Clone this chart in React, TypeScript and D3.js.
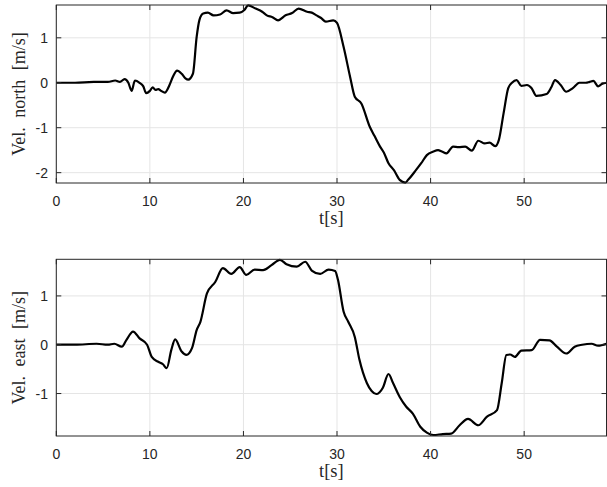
import React from "react";
import * as d3 from "d3";

const northT = [0, 2, 4, 5.5, 6.3, 6.8, 7.3, 7.7, 8.05, 8.4, 8.9, 9.3, 9.6, 10.0, 10.3, 10.6, 10.9, 11.2, 11.6, 12.1, 12.5, 12.9, 13.4, 13.8, 14.1, 14.6, 15.0, 15.3, 15.7, 16.2, 16.8, 17.5, 18.2, 18.9, 19.6, 20.1, 20.5, 21.3, 22.0, 22.5, 23.1, 23.7, 24.5, 25.2, 25.9, 26.8, 27.3, 27.8, 28.3, 28.8, 29.6, 30.0, 30.7, 31.4, 31.9, 32.6, 33.5, 34.0, 34.6, 35.0, 35.5, 36.1, 36.7, 37.3, 37.6, 38.3, 39.0, 39.6, 40.3, 40.8, 41.2, 41.7, 42.4, 43.0, 43.7, 44.4, 45.1, 45.8, 46.3, 46.9, 47.3, 47.8, 48.3, 48.7, 49.2, 49.7, 50.3, 50.8, 51.3, 52.4, 52.9, 53.3, 53.9, 54.5, 55.2, 55.9, 56.6, 57.0, 57.4, 57.9, 58.3, 58.8];
const northV = [0, 0.0, 0.02, 0.02, 0.05, 0.02, 0.08, 0.0, -0.18, 0.05, 0.0, -0.08, -0.23, -0.18, -0.1, -0.16, -0.14, -0.18, -0.22, -0.05, 0.15, 0.27, 0.2, 0.1, 0.07, 0.2, 1.02, 1.4, 1.54, 1.56, 1.5, 1.52, 1.61, 1.55, 1.56, 1.62, 1.72, 1.65, 1.58, 1.5, 1.46, 1.39, 1.5, 1.55, 1.65, 1.58, 1.56, 1.5, 1.44, 1.36, 1.39, 1.33, 0.8, 0.13, -0.31, -0.46, -0.98, -1.18, -1.42, -1.55, -1.79, -1.95, -2.16, -2.22, -2.16, -1.98, -1.79, -1.61, -1.53, -1.5, -1.53, -1.57, -1.42, -1.43, -1.42, -1.51, -1.29, -1.35, -1.33, -1.41, -1.27, -0.68, -0.12, 0.0, 0.06, -0.07, -0.05, -0.12, -0.29, -0.25, -0.1, 0.06, -0.05, -0.2, -0.12, 0.0, 0.0, 0.02, 0.04, -0.08, -0.03, 0.0];

const eastT = [0, 2, 4.3, 5.5, 6.2, 7.0, 7.5, 8.2, 8.9, 9.7, 10.2, 10.9, 11.4, 11.8, 12.3, 12.7, 13.4, 13.9, 14.5, 15.0, 15.4, 16.1, 17.0, 17.8, 18.7, 19.6, 20.3, 21.2, 22.1, 23.0, 23.9, 24.6, 25.7, 26.6, 27.3, 28.2, 29.1, 29.8, 30.1, 30.7, 31.2, 31.9, 32.4, 33.2, 33.7, 34.2, 34.9, 35.5, 36.0, 36.7, 37.4, 38.1, 38.9, 39.6, 40.3, 41.3, 42.2, 43.1, 44.0, 45.1, 46.0, 47.1, 47.6, 48.1, 48.5, 49.0, 49.7, 50.8, 51.7, 52.7, 53.5, 54.5, 55.4, 56.2, 57.2, 57.9, 58.8];
const eastV = [0, 0.0, 0.02, 0.0, 0.02, -0.04, 0.1, 0.27, 0.13, 0.0, -0.25, -0.35, -0.4, -0.48, -0.1, 0.11, -0.14, -0.21, -0.07, 0.3, 0.47, 1.05, 1.29, 1.57, 1.45, 1.59, 1.43, 1.54, 1.53, 1.63, 1.74, 1.65, 1.6, 1.7, 1.52, 1.45, 1.54, 1.51, 1.33, 0.68, 0.47, 0.16, -0.31, -0.79, -0.95, -1.01, -0.88, -0.6, -0.79, -1.07, -1.27, -1.41, -1.68, -1.8, -1.85, -1.83, -1.82, -1.65, -1.52, -1.65, -1.48, -1.34, -0.79, -0.21, -0.2, -0.25, -0.12, -0.11, 0.1, 0.09, -0.04, -0.18, -0.04, 0.0, 0.02, -0.02, 0.02];

const xTicks = [0, 10, 20, 30, 40, 50];
const northTicks = [-2, -1, 0, 1];
const eastTicks = [-1, 0, 1];

const LEFT = 56.3;
const RIGHT = 606.5;
const AXIS = "#262626";
const GRID = "#e5e5e5";

type PanelProps = {
  t: number[];
  v: number[];
  yDomain: [number, number];
  yTicks: number[];
  top: number;
  bottom: number;
  ylabel: string;
};

function Panel({ t, v, yDomain, yTicks, top, bottom, ylabel }: PanelProps) {
  const x = d3.scaleLinear().domain([0, 58.8]).range([LEFT, RIGHT]);
  const y = d3.scaleLinear().domain(yDomain).range([bottom, top]);
  const pts: [number, number][] = t.map((tt, i) => [tt, v[i]]);
  const line = d3
    .line<[number, number]>()
    .x((d) => x(d[0]))
    .y((d) => y(d[1]))
    .curve(d3.curveMonotoneX);
  const tl = 5;
  return (
    <g>
      {xTicks.map((tk) => (
        <line key={"gx" + tk} x1={x(tk)} x2={x(tk)} y1={top} y2={bottom} stroke={GRID} strokeWidth={1} />
      ))}
      {yTicks.map((tk) => (
        <line key={"gy" + tk} x1={LEFT} x2={RIGHT} y1={y(tk)} y2={y(tk)} stroke={GRID} strokeWidth={1} />
      ))}
      <path d={line(pts) || ""} fill="none" stroke="#000" strokeWidth={2.2} strokeLinejoin="round" />
      <rect x={LEFT} y={top} width={RIGHT - LEFT} height={bottom - top} fill="none" stroke={AXIS} strokeWidth={1} />
      {xTicks.map((tk) => (
        <g key={"tx" + tk}>
          <line x1={x(tk)} x2={x(tk)} y1={bottom} y2={bottom - tl} stroke={AXIS} />
          <line x1={x(tk)} x2={x(tk)} y1={top} y2={top + tl} stroke={AXIS} />
          <text x={x(tk)} y={bottom + 23} textAnchor="middle" fontFamily="Liberation Sans, Arial, sans-serif" fontSize={14} fill={AXIS}>
            {tk}
          </text>
        </g>
      ))}
      {yTicks.map((tk) => (
        <g key={"ty" + tk}>
          <line x1={LEFT} x2={LEFT + tl} y1={y(tk)} y2={y(tk)} stroke={AXIS} />
          <line x1={RIGHT} x2={RIGHT - tl} y1={y(tk)} y2={y(tk)} stroke={AXIS} />
          <text x={48} y={y(tk) + 5} textAnchor="end" fontFamily="Liberation Sans, Arial, sans-serif" fontSize={14} fill={AXIS}>
            {tk}
          </text>
        </g>
      ))}
      <text x={(LEFT + RIGHT) / 2} y={bottom + 41} textAnchor="middle" fontFamily="Liberation Serif, 'DejaVu Serif', serif" fontSize={18.5} fill={AXIS}>
        t[s]
      </text>
      <text
        transform={`translate(25,${(top + bottom) / 2}) rotate(-90)`}
        textAnchor="middle"
        fontFamily="Liberation Serif, 'DejaVu Serif', serif"
        fontSize={18}
        fill={AXIS}
        style={{ wordSpacing: "5px" }}
      >
        {ylabel}
      </text>
    </g>
  );
}

export default function App() {
  return (
    <svg width={607} height={487} style={{ position: "absolute", left: 0, top: 0, background: "#fff" }}>
      <rect x={0} y={0} width={607} height={487} fill="#fff" />
      <Panel t={northT} v={northV} yDomain={[-2.23, 1.73]} yTicks={northTicks} top={5} bottom={183} ylabel="Vel. north [m/s]" />
      <Panel t={eastT} v={eastV} yDomain={[-1.87, 1.75]} yTicks={eastTicks} top={259.3} bottom={436} ylabel="Vel. east [m/s]" />
    </svg>
  );
}
